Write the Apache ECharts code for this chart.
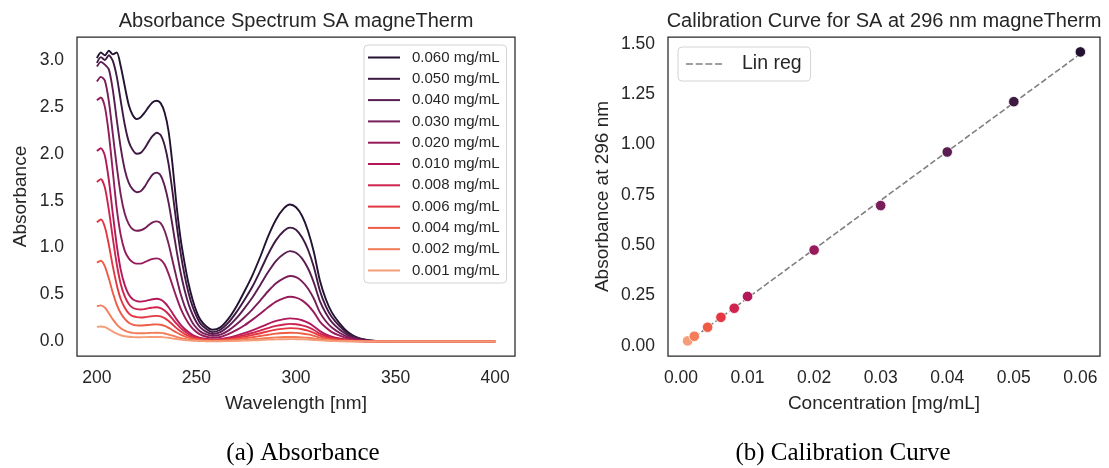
<!DOCTYPE html>
<html>
<head>
<meta charset="utf-8">
<title>Absorbance and calibration, SA magneTherm</title>
<script src="https://cdn.jsdelivr.net/npm/echarts@6/dist/echarts.min.js"></script>
<style>
  html, body { margin: 0; padding: 0; background: #ffffff; }
  #chart { width: 1109px; height: 468px; }
</style>
</head>
<body>
<div id="chart"></div>
<script>
// ---- Absorbance spectra (nm, absorbance) ----
const wavelengths = [200,202,204,206,208,210,212,214,216,218,220,222,224,226,228,230,232,234,236,238,240,242,244,246,248,250,252,255,258,262,266,270,274,278,282,286,290,294,297,300,303,306,309,312,315,318,322,326,330,335,340,350,375,400];

const spec060 = [3.02,3.08,3.05,3.10,3.06,3.08,2.93,2.72,2.52,2.41,2.37,2.39,2.44,2.50,2.55,2.565,2.54,2.44,2.24,1.88,1.45,1.10,0.84,0.62,0.45,0.32,0.23,0.16,0.125,0.15,0.24,0.37,0.53,0.70,0.90,1.12,1.30,1.42,1.46,1.43,1.34,1.18,0.95,0.65,0.45,0.31,0.19,0.10,0.05,0.018,0.006,0,0,0];
const spec050 = [2.97,3.03,3.00,3.05,2.99,2.82,2.56,2.31,2.13,2.04,2.00,2.01,2.06,2.13,2.19,2.225,2.20,2.09,1.89,1.59,1.25,0.95,0.71,0.52,0.375,0.27,0.19,0.133,0.10,0.125,0.20,0.31,0.44,0.58,0.75,0.93,1.08,1.18,1.213,1.19,1.11,0.98,0.79,0.54,0.375,0.26,0.16,0.085,0.042,0.015,0.005,0,0,0];
const spec040 = [2.93,2.98,2.95,2.90,2.68,2.36,2.06,1.83,1.69,1.62,1.59,1.60,1.65,1.72,1.78,1.80,1.77,1.66,1.48,1.23,0.97,0.74,0.55,0.40,0.29,0.205,0.148,0.103,0.08,0.10,0.16,0.245,0.35,0.465,0.60,0.74,0.86,0.935,0.963,0.945,0.885,0.78,0.625,0.43,0.30,0.205,0.125,0.068,0.034,0.012,0.004,0,0,0];
const spec030 = [2.77,2.82,2.78,2.56,2.21,1.86,1.56,1.36,1.25,1.195,1.18,1.185,1.205,1.24,1.27,1.28,1.26,1.18,1.04,0.86,0.68,0.51,0.38,0.28,0.20,0.145,0.105,0.075,0.06,0.072,0.115,0.18,0.255,0.34,0.435,0.535,0.62,0.675,0.697,0.685,0.64,0.565,0.455,0.31,0.215,0.148,0.09,0.05,0.025,0.009,0.003,0,0,0];
const spec020 = [2.57,2.60,2.50,2.21,1.81,1.41,1.13,0.965,0.885,0.845,0.83,0.83,0.845,0.865,0.88,0.885,0.87,0.82,0.72,0.595,0.47,0.355,0.265,0.195,0.14,0.10,0.072,0.05,0.04,0.048,0.078,0.12,0.17,0.23,0.295,0.365,0.425,0.462,0.476,0.467,0.438,0.386,0.31,0.212,0.148,0.10,0.062,0.034,0.017,0.006,0.002,0,0,0];
const spec010 = [2.03,2.06,1.98,1.72,1.36,1.02,0.76,0.60,0.50,0.45,0.43,0.425,0.43,0.44,0.45,0.455,0.445,0.415,0.365,0.30,0.235,0.18,0.135,0.10,0.072,0.052,0.038,0.026,0.02,0.025,0.04,0.062,0.088,0.118,0.152,0.188,0.219,0.238,0.246,0.241,0.226,0.20,0.16,0.11,0.076,0.052,0.032,0.018,0.009,0.003,0.001,0,0,0];
const spec008 = [1.70,1.73,1.64,1.40,1.10,0.82,0.61,0.48,0.40,0.36,0.345,0.34,0.345,0.355,0.36,0.365,0.355,0.33,0.29,0.24,0.19,0.145,0.108,0.08,0.058,0.042,0.03,0.021,0.016,0.019,0.031,0.047,0.067,0.09,0.116,0.143,0.166,0.181,0.187,0.183,0.172,0.152,0.122,0.083,0.058,0.04,0.024,0.013,0.007,0.002,0.001,0,0,0];
const spec006 = [1.27,1.30,1.22,1.03,0.80,0.60,0.45,0.36,0.30,0.27,0.26,0.255,0.258,0.265,0.27,0.273,0.267,0.248,0.218,0.18,0.142,0.108,0.081,0.06,0.044,0.032,0.023,0.016,0.012,0.014,0.023,0.036,0.051,0.068,0.088,0.108,0.126,0.137,0.142,0.139,0.13,0.115,0.092,0.063,0.044,0.03,0.018,0.01,0.005,0.002,0.001,0,0,0];
const spec004 = [0.84,0.86,0.80,0.67,0.52,0.39,0.30,0.24,0.20,0.18,0.172,0.17,0.172,0.176,0.18,0.182,0.178,0.165,0.145,0.12,0.095,0.072,0.054,0.04,0.029,0.021,0.015,0.011,0.008,0.009,0.015,0.024,0.034,0.045,0.058,0.071,0.083,0.09,0.093,0.091,0.085,0.075,0.06,0.041,0.029,0.02,0.012,0.007,0.003,0.001,0,0,0,0];
const spec002 = [0.375,0.385,0.36,0.30,0.235,0.18,0.14,0.115,0.10,0.092,0.088,0.087,0.088,0.09,0.092,0.093,0.091,0.085,0.074,0.062,0.049,0.037,0.028,0.021,0.015,0.011,0.008,0.006,0.004,0.005,0.008,0.012,0.017,0.023,0.03,0.037,0.043,0.047,0.048,0.047,0.044,0.039,0.031,0.021,0.015,0.01,0.006,0.003,0.002,0.001,0,0,0,0];
const spec001 = [0.155,0.16,0.152,0.13,0.105,0.083,0.066,0.056,0.05,0.047,0.045,0.045,0.046,0.047,0.048,0.048,0.047,0.044,0.039,0.032,0.026,0.02,0.015,0.011,0.008,0.006,0.004,0.003,0.002,0.003,0.004,0.006,0.009,0.012,0.015,0.019,0.022,0.024,0.025,0.024,0.023,0.02,0.016,0.011,0.008,0.005,0.003,0.002,0.001,0,0,0,0,0];

const concLabels = ['0.060 mg/mL','0.050 mg/mL','0.040 mg/mL','0.030 mg/mL','0.020 mg/mL','0.010 mg/mL','0.008 mg/mL','0.006 mg/mL','0.004 mg/mL','0.002 mg/mL','0.001 mg/mL'];
const spectra = [spec060, spec050, spec040, spec030, spec020, spec010, spec008, spec006, spec004, spec002, spec001];

// ---- Calibration at 296 nm ----
const concentrations = [0.001,0.002,0.004,0.006,0.008,0.010,0.020,0.030,0.040,0.050,0.060];
const absorbance296 = [0.025,0.048,0.093,0.142,0.187,0.246,0.476,0.697,0.963,1.213,1.460];

// ---- Tick labels ----
const ticksWavelength = [200,250,300,350,400];
const ticksAbsorbance = [0,0.5,1,1.5,2,2.5,3];
const ticksConc = [0,0.01,0.02,0.03,0.04,0.05,0.06];
const ticksAbs296 = [0,0.25,0.5,0.75,1,1.25,1.5];

// rocket-like palette, highest concentration darkest
const palette = ['#231232','#3e1a43','#5a1d51','#781e59','#961b5b','#b3195a','#ce244d','#e33842','#ee5c46','#f37c59','#f59d78'];
const paletteByConc = {
  0.060: palette[0], 0.050: palette[1], 0.040: palette[2], 0.030: palette[3], 0.020: palette[4],
  0.010: palette[5], 0.008: palette[6], 0.006: palette[7], 0.004: palette[8], 0.002: palette[9], 0.001: palette[10]
};

// least-squares fit of the calibration points
function linearFit(xs, ys) {
  const n = xs.length;
  const mx = xs.reduce((a, b) => a + b, 0) / n;
  const my = ys.reduce((a, b) => a + b, 0) / n;
  let sxy = 0, sxx = 0;
  for (let i = 0; i < n; i++) { sxy += (xs[i] - mx) * (ys[i] - my); sxx += (xs[i] - mx) ** 2; }
  const slope = sxy / sxx;
  return { slope, intercept: my - slope * mx };
}
const fit = linearFit(concentrations, absorbance296);
const xLo = Math.min(...concentrations), xHi = Math.max(...concentrations);
const fitLine = [[xLo, fit.intercept + fit.slope * xLo], [xHi, fit.intercept + fit.slope * xHi]];

const FONT = '"Liberation Sans", Arial, sans-serif';
const INK = '#262626';

const spectrumSeries = spectra.map((vals, i) => ({
  name: concLabels[i],
  type: 'line',
  xAxisIndex: 0, yAxisIndex: 0,
  data: wavelengths.map((w, j) => [w, vals[j]]),
  showSymbol: false, symbol: 'none',
  smooth: 0.25,
  color: palette[i],
  itemStyle: { color: palette[i] },
  lineStyle: { color: palette[i], width: 1.9 },
  z: 2 + i
}));

function axisBase(min, max, ticks, fmt, name, nameGap, gridIndex) {
  return {
    type: 'value', gridIndex, min, max,
    axisLine: { show: false }, axisTick: { show: false }, splitLine: { show: false },
    axisLabel: { customValues: ticks, formatter: fmt, fontFamily: FONT, fontSize: 17.5, color: INK, margin: 13 },
    name, nameLocation: 'middle', nameGap,
    nameTextStyle: { fontFamily: FONT, fontSize: 19, color: INK }
  };
}

const chart = echarts.init(document.getElementById('chart'), null, { renderer: 'canvas' });
chart.setOption({
  animation: false,
  backgroundColor: '#ffffff',
  grid: [
    { left: 77, top: 37, width: 438, height: 319, show: true, borderColor: INK, borderWidth: 1.25, backgroundColor: 'transparent' },
    { left: 668, top: 37, width: 432, height: 319, show: true, borderColor: INK, borderWidth: 1.25, backgroundColor: 'transparent' }
  ],
  xAxis: [
    axisBase(190, 410, ticksWavelength, v => String(Math.round(v)), 'Wavelength [nm]', 38, 0),
    axisBase(-0.00195, 0.06295, ticksConc, v => v.toFixed(2), 'Concentration [mg/mL]', 38, 1)
  ],
  yAxis: [
    axisBase(-0.155, 3.245, ticksAbsorbance, v => v.toFixed(1), 'Absorbance', 47, 0),
    axisBase(-0.05, 1.534, ticksAbs296, v => v.toFixed(2), 'Absorbance at 296 nm', 56, 1)
  ],
  legend: [
    {
      data: concLabels, orient: 'vertical', left: 364, top: 45,
      icon: 'rect', itemWidth: 32, itemHeight: 2, itemGap: 6.3,
      padding: [5, 7, 5, 4],
      backgroundColor: '#ffffff', borderColor: '#d4d4d4', borderWidth: 1, borderRadius: 4,
      selectedMode: false,
      textStyle: { fontFamily: FONT, fontSize: 15, color: INK, lineHeight: 15, padding: [0, 0, 0, 7] }
    },
    {
      data: ['Lin reg'], orient: 'vertical', left: 678, top: 47,
      icon: 'path://M0,0h7v1.5h-7z M9.7,0h7v1.5h-7z M19.4,0h7v1.5h-7z M29.1,0h7v1.5h-7z',
      itemWidth: 36, itemHeight: 1.5,
      padding: [7, 9, 7, 8],
      backgroundColor: '#ffffff', borderColor: '#d4d4d4', borderWidth: 1, borderRadius: 4,
      selectedMode: false,
      textStyle: { fontFamily: FONT, fontSize: 19.5, color: INK, lineHeight: 19, padding: [0, 0, 0, 15] }
    }
  ],
  series: [
    ...spectrumSeries,
    {
      name: 'Lin reg', type: 'line', xAxisIndex: 1, yAxisIndex: 1,
      data: fitLine, symbol: 'none', showSymbol: false,
      color: '#808080',
      itemStyle: { color: '#808080' },
      lineStyle: { color: '#808080', width: 1.6, type: [6, 2.6] },
      z: 2
    },
    {
      name: 'Absorbance at 296 nm', type: 'scatter', xAxisIndex: 1, yAxisIndex: 1,
      data: concentrations.map((c, i) => ({
        value: [c, absorbance296[i]],
        itemStyle: { color: paletteByConc[c], opacity: 1 }
      })),
      symbolSize: 10.5,
      itemStyle: { borderColor: '#ffffff', borderWidth: 0.8, opacity: 1 },
      z: 5
    }
  ],
  graphic: [
    { type: 'text', x: 296, y: 21, style: { text: 'Absorbance Spectrum SA magneTherm', font: '20px ' + FONT, fill: INK, textAlign: 'center', textVerticalAlign: 'middle' } },
    { type: 'text', x: 884, y: 21, style: { text: 'Calibration Curve for SA at 296 nm magneTherm', font: '20px ' + FONT, fill: INK, textAlign: 'center', textVerticalAlign: 'middle' } },
    { type: 'text', x: 303, y: 453, style: { text: '(a) Absorbance', font: '25px "Liberation Serif", "Times New Roman", serif', fill: '#000000', textAlign: 'center', textVerticalAlign: 'middle' } },
    { type: 'text', x: 843, y: 453, style: { text: '(b) Calibration Curve', font: '25px "Liberation Serif", "Times New Roman", serif', fill: '#000000', textAlign: 'center', textVerticalAlign: 'middle' } }
  ]
});
</script>
</body>
</html>
